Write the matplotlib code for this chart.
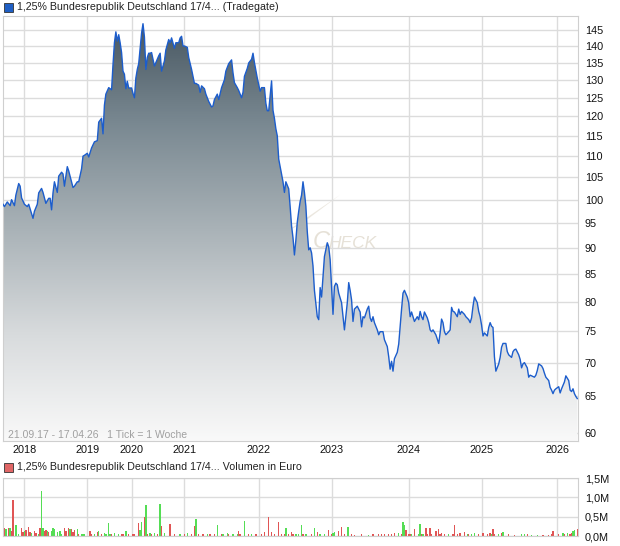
import numpy as np
import matplotlib
matplotlib.use("Agg")
import matplotlib.pyplot as plt
from matplotlib.colors import LinearSegmentedColormap
from matplotlib.patches import Rectangle, Polygon

plt.rcParams['font.family'] = ['Liberation Sans', 'DejaVu Sans']

# weekly ticks (1 tick = 1 Woche), 21.09.17 - 17.04.26
week = [0, 1, 3, 5, 6, 8, 9, 11, 12, 13,
        15, 17, 18, 20, 21, 22, 24, 25, 27, 28,
        30, 32, 33, 34, 35, 36, 38, 39, 41, 42,
        43, 45, 46, 48, 49, 50, 52, 53, 55, 56,
        57, 59, 60, 62, 64, 66, 67, 69, 70, 71,
        72, 74, 76, 77, 78, 79, 80, 81, 82, 83,
        84, 85, 86, 87, 88, 90, 91, 92, 93, 94,
        95, 97, 98, 99, 100, 101, 102,
        103, 104, 106, 109, 110, 111, 113, 114, 116, 117,
        118, 120, 121, 123, 124, 125, 126, 127, 129, 130,
        132, 134, 135, 137, 138, 139, 141, 142, 144, 146,
        147, 148, 150, 151, 153, 155, 156, 158, 160, 161,
        162, 164, 165, 167, 168, 169, 171, 172, 174, 175,
        176, 178, 179, 180, 181, 183, 184, 185, 186, 188,
        189, 190, 191, 192, 193, 195, 196, 197, 198, 200,
        201,
        202, 203, 204, 205, 206, 207, 208, 209, 210, 211,
        212, 213, 214, 215, 216, 217, 218, 220, 221, 222,
        223, 224, 225, 227, 228, 229, 230, 231, 232, 233,
        234, 235, 237, 238, 239, 241, 242, 243, 244, 245,
        246, 248, 249, 250, 251, 252, 253, 255, 256, 257,
        258, 259, 260, 262, 263, 264, 266, 267, 269, 270,
        271, 272, 273, 274, 276, 277, 278, 279, 280, 281,
        283, 284, 285, 286, 287, 288, 290, 291, 292, 293,
        294, 295, 297, 298,
        299, 300, 301, 303, 305, 306, 307, 308, 309, 310,
        312, 313, 314, 315, 316, 318, 319, 320, 321, 323,
        324, 326, 327, 328, 329, 330, 332, 333, 334, 335,
        336, 337, 339, 340, 341, 342, 343, 344, 345, 347,
        348, 349, 350, 352, 353, 354, 356, 357, 358, 359,
        361, 362, 363, 364, 365, 367, 368, 369, 370, 372,
        373, 374, 375, 377, 378, 379, 380, 382, 383, 384,
        385, 386, 387, 389, 390, 391, 392, 393, 394, 396,
        397, 398, 399, 400, 401, 402]

price = [99, 98.5, 99.5, 98.7, 100, 98.7, 101, 103.6, 103, 100.4,
         99, 98.5, 99, 97, 96, 97.5, 99, 101.5, 102.5, 101.6,
         99.2, 100.3, 100.3, 97.8, 101.5, 104, 101.6, 105.3, 106.2, 105.8,
         103, 107.5, 106.5, 104, 102.7, 103, 104, 104, 107, 110,
         110.2, 110.7, 109.8, 112, 113.5, 113.8, 118.5, 119.5, 115.5, 123,
         126, 127.8, 127.2, 134.4, 141, 144.4, 141.5, 143.5, 141, 138,
         132.5, 131.6, 127.5, 129.6, 127.7, 127.7, 126.2, 125, 130.5, 133,
         134.7, 144, 147, 142.8, 133, 136.5, 137.8,
         137.8, 138, 134, 137, 137.8, 132.5, 135.5, 138.8, 142, 141,
         142.5, 139.3, 141, 141, 142.5, 143, 140, 140, 139.6, 136.5,
         133, 129, 129, 128.5, 126.5, 128.3, 127.5, 126, 124, 122.5,
         122.8, 124.5, 126, 124.5, 127.8, 130, 132.5, 134.7, 135.8, 132,
         129.2, 127.8, 127, 125, 126.5, 131, 133.3, 134.9, 136, 137.8,
         135, 130.5, 128.6, 126.8, 127.8, 127.8, 123.5, 121.5, 121.5, 129.7,
         121.6, 119.5, 116.8, 115, 109.3, 105.8, 104, 101.6, 104, 102.4,
         98.5,
         94.4, 92, 88.6, 91.5, 95.2, 97.5, 99.6, 101, 104, 101.6,
         98.6, 93.2, 89.6, 90, 89, 86.5, 82, 77.4, 76.9, 82.5,
         80.8, 84.6, 88.3, 91, 90.2, 87.7, 82.7, 77.8, 82.7, 83.3,
         83, 81.5, 79.8, 77.4, 75.2, 79.8, 83.4, 82, 80.3, 76.6,
         78.7, 79.2, 78.7, 78.2, 75.7, 77.4, 77.2, 78.7, 79.2, 77.2,
         76.6, 77.4, 76.4, 75.2, 74.4, 74.9, 74.9, 73.6, 72.5, 70.9,
         69, 70.2, 68.7, 70.6, 71.6, 72.9, 75.8, 78.7, 81.5, 82,
         80.8, 79.8, 77.4, 78.2, 77.4, 76.6, 77.4, 76.9, 78.3, 77.4,
         76.9, 78.2, 77.2, 76.4,
         75.2, 74.9, 75.2, 74.4, 73, 74.7, 77, 76.4, 74.9, 74.4,
         74.9, 75.2, 79, 78.3, 78.2, 77.4, 78.7, 77.8, 78.3, 77.8,
         77.4, 76.9, 76.4, 77.2, 79.2, 80.8, 79.8, 78.3, 77.4, 76,
         74.2, 74.7, 74.2, 75.6, 76.4, 75.8, 75.6, 70.9, 68.7, 69.8,
         70.8, 72.4, 73, 73, 71.7, 71.2, 70.8, 71.7, 72, 72.1,
         71.2, 70.5, 69.2, 69.8, 70, 69.2, 67.8, 68.1, 68, 67.8,
         68.1, 68.8, 69.8, 69.5, 69.1, 68.4, 67.8, 67.3, 66.3, 65.9,
         65.4, 65.9, 66.1, 66.4, 65.5, 66.1, 66.6, 67.1, 68, 67.3,
         65.9, 65.7, 66.1, 65.4, 65, 64.7]

# volume in Euro (millions), 1 = up week (green), 0 = down week (red)
vol_week = [1, 2, 4, 5, 6, 7, 9, 11, 13, 14,
            15, 16, 18, 19, 20, 22, 23, 25, 26, 27,
            28, 29, 30, 31, 32, 34, 35, 36, 38, 40,
            41, 43, 44, 46, 47, 48, 49, 50, 52, 53,
            55, 56, 57, 61, 62, 64, 66, 67, 69, 71,
            72, 74, 75, 76, 78, 81, 83, 84, 86, 88,
            91, 92, 95, 96, 97, 99, 100, 101, 103, 104,
            106, 108, 110, 111, 113, 117, 120, 124, 127, 129,
            132, 134, 135, 137, 140, 143, 145, 148, 150, 153,
            154, 157, 158, 161, 164, 165, 166, 169, 172, 174,
            177, 181, 183, 186, 188, 190, 193, 195, 197, 198,
            200, 202, 203, 205, 207, 209, 210, 212, 216, 218,
            220, 222, 225, 228, 230, 231, 232, 235, 237, 239,
            241, 242, 244, 246, 251, 256, 259, 263, 265, 267,
            270, 272, 274, 277, 279, 280, 281, 282, 284, 285,
            286, 288, 291, 292, 293, 294, 296, 297, 299, 300,
            303, 305, 306, 307, 309, 312, 315, 316, 318, 320,
            323, 325, 326, 328, 330, 333, 336, 339, 341, 342,
            343, 344, 347, 349, 350, 354, 358, 363, 365, 367,
            370, 374, 378, 382, 384, 385, 389, 392, 393, 395,
            397, 398, 399, 400, 402]

vol_eur = [.21, .18, .2, .2, .12, .93, .28, .05, .2, .1,
           .13, .15, .24, .1, .08, .12, .08, .05, .2, 1.16,
           .2, .12, .15, .13, .1, .12, .2, .18, .1, .13,
           .05, .2, .12, .2, .18, .18, .1, .15, .18, .05,
           .05, .05, .05, .12, .05, .05, .1, .12, .05, .08,
           .05, .33, .05, .05, .08, .05, .05, .05, .13, .05,
           .05, .05, .34, .15, .36, .5, .8, .05, .08, .05,
           .08, .05, .83, .27, .08, .31, .05, .05, .05, .08,
           .05, .27, .44, .05, .05, .05, .05, .05, .28, .05,
           .05, .08, .05, .05, .05, .13, .05, .39, .05, .05,
           .05, .05, .1, .5, .1, .05, .37, .05, .05, .2,
           .05, .1, .05, .05, .05, .28, .05, .05, .05, .21,
           .1, .05, .05, .15, .05, .08, .1, .12, .22, .05,
           .22, .22, .05, .02, .05, .03, .05, .05, .05, .05,
           .05, .05, .07, .07, .05, .37, .28, .15, .05, .05,
           .05, .18, .05, .31, .05, .05, .2, .05, .2, .05,
           .12, .17, .05, .07, .05, .05, .05, .28, .05, .08,
           .1, .05, .05, .05, .08, .05, .08, .05, .08, .05,
           .17, .05, .05, .07, .1, .05, .02, .05, .05, .05,
           .03, .03, .03, .03, .05, .12, .05, .08, .05, .07,
           .05, .08, .12, .15, .18]

vol_up = [0, 1, 0, 1, 0, 0, 1, 1, 0, 0,
          1, 0, 0, 0, 1, 0, 0, 1, 0, 1,
          1, 0, 0, 1, 0, 1, 1, 1, 1, 1,
          1, 0, 0, 0, 1, 0, 0, 0, 1, 0,
          1, 1, 1, 0, 0, 1, 0, 1, 0, 1,
          1, 1, 1, 0, 1, 1, 0, 0, 1, 0,
          0, 0, 0, 1, 1, 0, 1, 0, 1, 0,
          1, 0, 1, 0, 1, 0, 0, 1, 0, 1,
          0, 0, 1, 0, 0, 1, 0, 0, 1, 0,
          1, 1, 0, 1, 1, 0, 0, 1, 0, 1,
          0, 0, 0, 0, 0, 0, 0, 0, 0, 1,
          0, 0, 0, 1, 1, 1, 0, 1, 0, 1,
          0, 1, 1, 0, 0, 1, 1, 0, 0, 0,
          1, 1, 0, 0, 0, 1, 0, 0, 0, 0,
          0, 0, 0, 1, 0, 1, 1, 0, 0, 0,
          1, 0, 1, 1, 0, 1, 0, 0, 0, 0,
          0, 0, 0, 0, 0, 1, 0, 0, 0, 0,
          0, 1, 0, 1, 1, 0, 0, 0, 0, 1,
          0, 0, 1, 0, 1, 0, 0, 1, 1, 0,
          1, 1, 0, 0, 0, 0, 0, 1, 0, 1,
          0, 0, 1, 1, 0]

years = ['2018', '2019', '2020', '2021', '2022', '2023', '2024', '2025', '2026']
year_week = [15, 59, 90, 127, 179, 230, 284, 335, 388]
price_ticks = [60, 65, 70, 75, 80, 85, 90, 95, 100, 105, 110, 115, 120, 125, 130, 135, 140, 145]
vol_ticks = [0, 0.5, 1.0, 1.5]
vol_labels = ['0,0M', '0,5M', '1,0M', '1,5M']

grid_c = '#dcdcdc'
fig = plt.figure(figsize=(6.2, 5.46), dpi=100)
ax = fig.add_axes([3/620, 105/546, 575/620, 425/546])
ax2 = fig.add_axes([3/620, 10/546, 575/620, 58/546])

# price panel
ymin, ymax = 58.96, 149.5
ax.set_yscale('log')
ax.set_xlim(0, 402.5)
ax.set_ylim(ymin, ymax)
ax.set_autoscale_on(False)

poly = ax.fill_between(week, price, ymin, facecolor='none', edgecolor='none')
cmap = LinearSegmentedColormap.from_list('g', [(0, '#f9f9f9'), (0.25, '#d8dbdd'), (0.5, '#a9b2b7'),
                                                (0.75, '#798891'), (1.0, '#45545e')])
grad = np.linspace(0, 1, 256).reshape(-1, 1)
im = ax.imshow(grad, extent=[0, 1, 0, 1], transform=ax.transAxes, aspect='auto',
               cmap=cmap, origin='lower', zorder=1)
im.set_clip_path(poly.get_paths()[0], transform=ax.transData)
ax.plot(week, price, color='#1c5dcc', lw=1.0, zorder=3)

# watermark
ax.add_patch(Polygon([(0.49, 0.49), (0.586, 0.579), (0.52, 0.512)], closed=True,
                     transform=ax.transAxes, facecolor='#ebe7df', edgecolor='none', zorder=0.5))
ax.text(0.539, 0.454, 'C', transform=ax.transAxes, fontsize=17, style='italic',
        color='#e6e1d7', zorder=0.5)
ax.text(0.566, 0.454, 'HECK', transform=ax.transAxes, fontsize=12.5, style='italic',
        color='#e6e1d7', zorder=0.5)

ax.yaxis.tick_right()
ax.minorticks_off()
ax.set_yticks(price_ticks)
ax.set_yticklabels([str(t) for t in price_ticks])
ax.set_xticks(year_week)
ax.set_xticklabels(years)
ax.tick_params(length=0, labelsize=7.8, colors='#111111')
ax.tick_params(axis='y', pad=5)
ax.tick_params(axis='x', pad=3)
ax.grid(True, color=grid_c, lw=1.0, zorder=0)
ax.set_axisbelow(True)
for s in ax.spines.values():
    s.set_color('#cfcfcf')

ax.text(0.009, 0.008, '21.09.17 - 17.04.26   1 Tick = 1 Woche', transform=ax.transAxes,
        fontsize=7.5, color='#a0a0a0', zorder=4)

# volume panel
colors = ['#55dd55' if u else '#e05555' for u in vol_up]
ax2.bar(vol_week, vol_eur, width=1.0, color=colors, linewidth=0, antialiased=False, zorder=2)
ax2.set_xlim(0, 402.5)
ax2.set_ylim(0, 1.5)
ax2.yaxis.tick_right()
ax2.set_yticks(vol_ticks)
ax2.set_yticklabels(vol_labels)
ax2.set_xticks(year_week)
ax2.set_xticklabels([])
ax2.tick_params(length=0, labelsize=7.8, colors='#111111')
ax2.tick_params(axis='y', pad=5)
ax2.grid(True, color=grid_c, lw=1.0, zorder=0)
ax2.set_axisbelow(True)
for s in ax2.spines.values():
    s.set_color('#cfcfcf')

# headers
fig.add_artist(Rectangle((4/620, 1 - 12/546), 9/620, 9/546, transform=fig.transFigure,
                         facecolor='#1f5fc4', edgecolor='#333333', lw=0.6))
fig.text(17/620, 1 - 7.5/546, '1,25% Bundesrepublik Deutschland 17/4... (Tradegate)',
         fontsize=7.7, va='center', ha='left', color='#222222')
fig.add_artist(Rectangle((4/620, 1 - 472/546), 9/620, 9/546, transform=fig.transFigure,
                         facecolor='#e06666', edgecolor='#333333', lw=0.6))
fig.text(17/620, 1 - 467.5/546, '1,25% Bundesrepublik Deutschland 17/4... Volumen in Euro',
         fontsize=7.7, va='center', ha='left', color='#222222')

fig.savefig('out.png', dpi=100)
